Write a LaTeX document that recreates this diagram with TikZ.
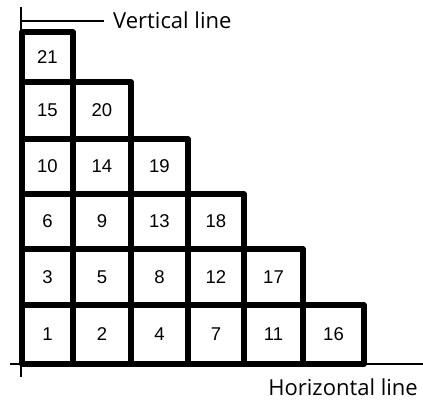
\documentclass[tikz,border=0pt]{standalone}
\usepackage{fontspec}
\setmainfont{Open Sans}
\newfontfamily\numfont{Liberation Sans}
\begin{document}
\begin{tikzpicture}[x=1pt,y=-1pt,
  cell/.style={draw, line width=5.5pt, line join=round, rectangle, inner sep=0pt,
    font=\numfont\fontsize{18.5}{18.5}\selectfont},
  axis/.style={line width=2pt},
  lbl/.style={inner sep=0pt, font=\fontsize{22}{23}\selectfont}]
\useasboundingbox (0,0) rectangle (423,399);
\foreach \n/\c/\r in {1/0/0, 2/1/0, 4/2/0, 7/3/0, 11/4/0, 16/5/0,
                      3/0/1, 5/1/1, 8/2/1, 12/3/1, 17/4/1,
                      6/0/2, 9/1/2, 13/2/2, 18/3/2,
                      10/0/3, 14/1/3, 19/2/3,
                      15/0/4, 20/1/4,
                      21/0/5}{
  \pgfmathsetmacro\xa{{22,73,131,188,244,303,364}[\c]}
  \pgfmathsetmacro\xb{{22,73,131,188,244,303,364}[\c+1]}
  \pgfmathsetmacro\ya{{364,305,249,194,139,82,32}[\r]}
  \pgfmathsetmacro\yb{{364,305,249,194,139,82,32}[\r+1]}
  \pgfmathsetmacro\w{\xb-\xa}
  \pgfmathsetmacro\h{\ya-\yb}
  \node[cell, minimum width=\w pt, minimum height=\h pt] (c\n) at ({(\xa+\xb)/2},{(\ya+\yb)/2}) {\n};
}
\coordinate (vtop) at (21,7);
\coordinate (vbot) at (21,377);
\coordinate (hl) at (10,364);
\coordinate (hr) at (423,364);
\coordinate (tick) at (21,21);
\coordinate (tickend) at (104,21);
\node[lbl, anchor=base west] (vlabel) at (113,28) {Vertical line};
\node[lbl, anchor=base east] (hlabel) at (418,395) {Horizontal line};
\draw[axis] (vtop) -- (vbot);
\draw[axis] (hl) -- (hr);
\draw[axis] (tick) -- (tickend);
\end{tikzpicture}
\end{document}
